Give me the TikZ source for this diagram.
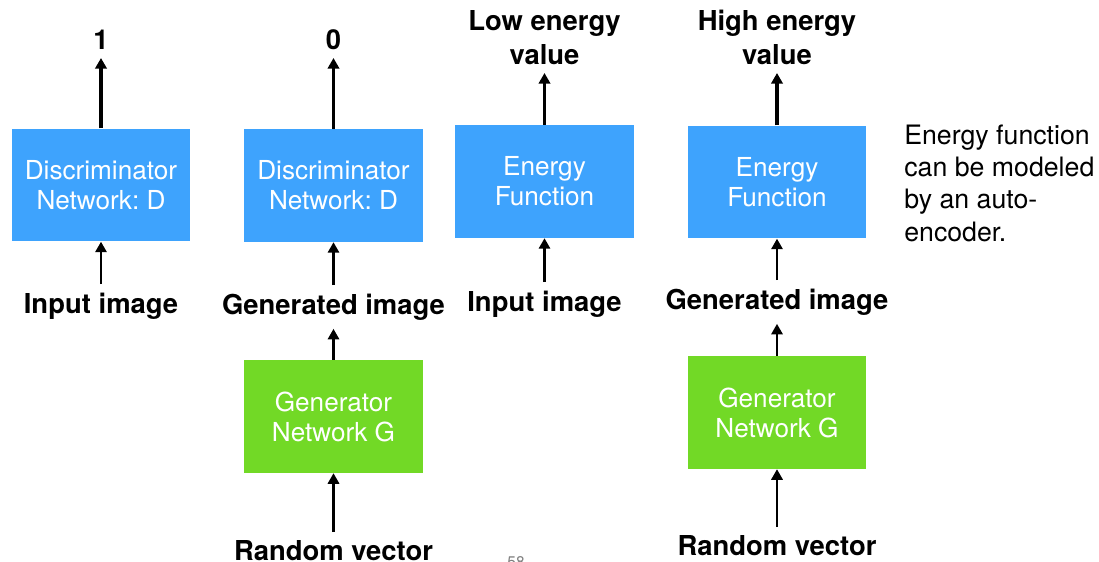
\documentclass[tikz,border=0pt]{standalone}
\usepackage{fontspec}
\setmainfont{TeX Gyre Heros}
\usetikzlibrary{arrows.meta}
\frenchspacing

\definecolor{netblue}{RGB}{62,163,253}
\definecolor{netgreen}{RGB}{114,217,38}

\begin{document}
\begin{tikzpicture}[x=0.025cm,y=-0.025cm,>={Triangle[length=7.5pt,width=8pt]},
            blk/.style={rectangle,minimum width=4.47cm,minimum height=2.82cm,inner sep=0pt,
              text=white,align=center,font=\fontsize{18.6}{21.3}\selectfont},
            disc/.style={blk,fill=netblue},
            gen/.style={blk,fill=netgreen},
            lbl/.style={inner sep=6pt,align=center,font=\fontsize{19.5}{23.7}\selectfont\bfseries},
            outarrow/.style={->,line width=2.2pt},
            inarrow/.style={->,line width=1.7pt}]
            \useasboundingbox (0,0) rectangle (1099,561);
            \node[disc] (d1) at (101,185) {Discriminator\\Network: D};
            \node[disc] (d2) at (333.5,185.5) {Discriminator\\Network: D};
            \node[gen] (g2) at (333.5,416.5) {Generator\\Network G};
            \node[disc] (e3) at (544.5,181.5) {Energy\\Function};
            \node[disc] (e4) at (777,182) {Energy\\Function};
            \node[gen] (g4) at (777,412.5) {Generator\\Network G};
            \node[lbl,anchor=south] (o1) at (101,58) {1};
            \node[lbl,anchor=south] (o2) at (333.5,58) {0};
            \node[lbl,anchor=south] (o3) at (544.5,73) {Low energy\\value};
            \node[lbl,anchor=south] (o4) at (777,73) {High energy\\value};
            \node[lbl,anchor=north] (i1) at (101,284) {Input image};
            \node[lbl,anchor=north] (i2) at (333.5,285) {Generated image};
            \node[lbl,anchor=north] (i3) at (544.5,282) {Input image};
            \node[lbl,anchor=north] (i4) at (777,280) {Generated image};
            \node[lbl,anchor=north] (r2) at (333.5,532) {Random vector};
            \node[lbl,anchor=north] (r4) at (777,527) {Random vector};
            \node[anchor=north west,inner sep=0pt,align=left,font=\fontsize{19}{22.8}\selectfont] (note) at (904,125)
              {Energy function\\can be modeled\\by an auto-\\encoder.};
            \node[anchor=north,inner sep=0pt,text=gray,font=\fontsize{11}{13}\selectfont] (pg) at (516,556) {58};
            \draw[outarrow] (d1) -- (o1);
            \draw[outarrow] (d2) -- (o2);
            \draw[outarrow] (e3) -- (o3);
            \draw[outarrow] (e4) -- (o4);
            \draw[inarrow] (i1) -- (d1);
            \draw[inarrow] (i2) -- (d2);
            \draw[inarrow] (i3) -- (e3);
            \draw[inarrow] (i4) -- (e4);
            \draw[inarrow] (g2) -- (i2);
            \draw[inarrow] (g4) -- (i4);
            \draw[inarrow] (r2) -- (g2);
            \draw[inarrow] (r4) -- (g4);
        \end{tikzpicture}
\end{document}
